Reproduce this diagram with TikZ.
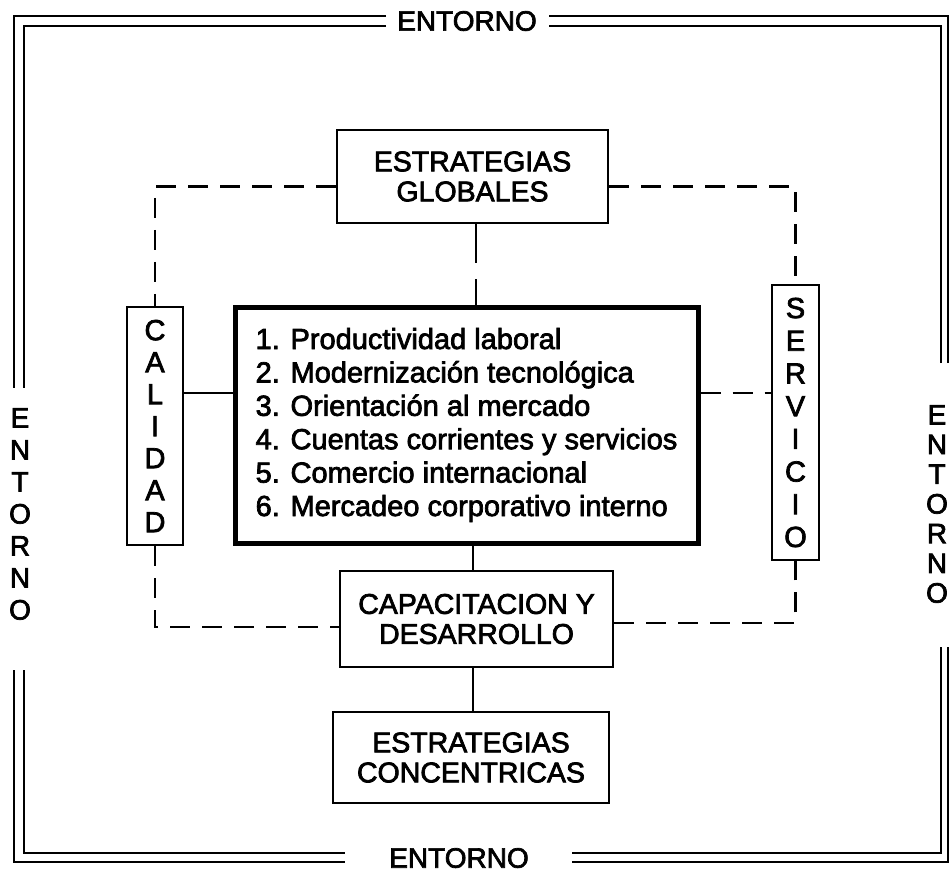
\documentclass[tikz,border=0pt]{standalone}
\usepackage{fontspec}
\setmainfont{Liberation Sans}[FakeBold=2.5]
\usetikzlibrary{positioning, calc}
\tikzset{
    block/.style={draw, line width=2.5pt, align=center, inner sep=0pt, font=\fontsize{28.5}{30}\selectfont},
    mainblock/.style={draw, line width=5pt, align=left, inner sep=0pt, font=\fontsize{29}{33.4}\selectfont},
    letters/.style={align=center, inner sep=0pt, font=\fontsize{28}{32}\selectfont},
    link/.style={line width=2.5pt},
    dlink/.style={line width=2.5pt, dash pattern=on 20pt off 12pt},
    gaplink/.style={line width=2.5pt, dash pattern=on 39pt off 16pt},
    rim/.style={line width=2pt}
}

\begin{document}
\begin{tikzpicture}[x=1pt, y=-1pt]
    \useasboundingbox (0,0) rectangle (949,879);

    % Double frame
    \draw[rim] (386,16) -- (14,16) -- (14,388);
    \draw[rim] (14,670) -- (14,862) -- (345,862);
    \draw[rim] (572,862) -- (948,862) -- (948,647);
    \draw[rim] (948,363) -- (948,16) -- (549,16);
    \draw[rim] (386,26) -- (24,26) -- (24,388);
    \draw[rim] (24,670) -- (24,853) -- (345,853);
    \draw[rim] (572,853) -- (941,853) -- (941,647);
    \draw[rim] (941,363) -- (941,26) -- (549,26);

    % Entorno labels
    \node[letters] (enttop) at (467,21) {ENTORNO};
    \node[letters] (entbot) at (459,858) {ENTORNO};
    \node[letters] (entleft) at (20,514) {E\\N\\T\\O\\R\\N\\O};
    \node[letters, font=\fontsize{28}{29.7}\selectfont] (entright) at (937,504) {E\\N\\T\\O\\R\\N\\O};

    % Boxes
    \node[block, minimum width=271pt, minimum height=93pt] (glob) at (472.5,176.5) {ESTRATEGIAS\\GLOBALES};
    \node[block, minimum width=56pt, minimum height=238pt, font=\fontsize{29}{32}\selectfont] (cali) at (155,426) {C\\A\\L\\I\\D\\A\\D};
    \node[mainblock, minimum width=463pt, minimum height=236pt] (prod) at (466.5,425) {1. Productividad laboral\\2. Modernización tecnológica\\3. Orientación al mercado\\4. Cuentas corrientes y servicios\\5. Comercio internacional\\6. Mercadeo corporativo interno};
    \node[block, minimum width=47pt, minimum height=275pt, font=\fontsize{29}{32.7}\selectfont] (serv) at (795.5,422.5) {S\\E\\R\\V\\I\\C\\I\\O};
    \node[block, minimum width=273pt, minimum height=96pt] (capa) at (476.5,619) {CAPACITACION Y\\DESARROLLO};
    \node[block, minimum width=276pt, minimum height=91pt] (conc) at (471,757.5) {ESTRATEGIAS\\CONCENTRICAS};

    % Connectors
    \coordinate (row) at (0,393);
    \draw[gaplink] (glob.south -| 476,0) -- (prod.north -| 476,0);
    \draw[dlink] ([yshift=-10pt]glob.west) -| (cali.north);
    \draw[dlink] ([yshift=-10pt]glob.east) -| (serv.north);
    \draw[link] (cali.east |- row) -- (prod.west |- row);
    \draw[dlink] (prod.east |- row) -- (serv.west |- row);
    \draw[link] (prod.south -| 473,0) -- (capa.north -| 473,0);
    \draw[dlink] (cali.south) |- ([yshift=-8pt]capa.west);
    \draw[dlink] ([yshift=-4pt]capa.east) -| (serv.south);
    \draw[link] (capa.south -| 473,0) -- (conc.north -| 473,0);
\end{tikzpicture}
\end{document}
